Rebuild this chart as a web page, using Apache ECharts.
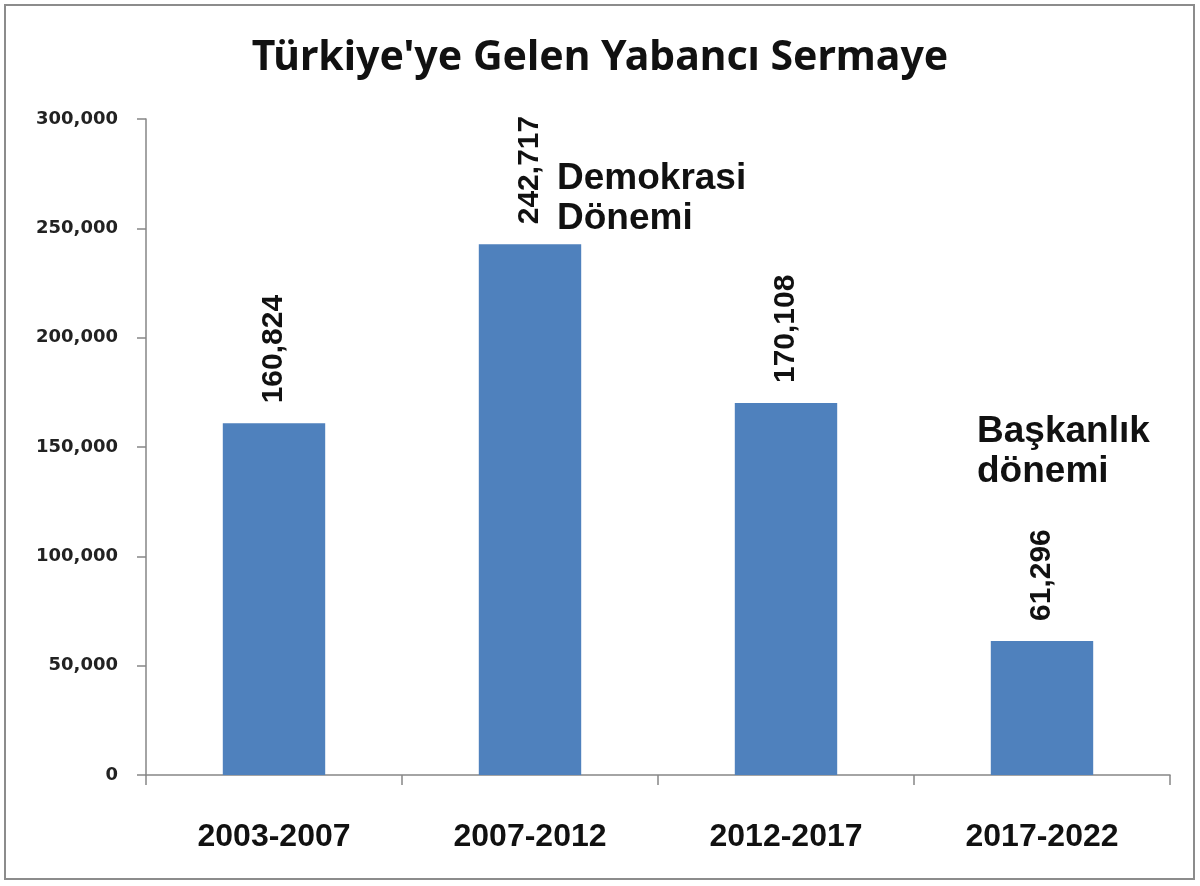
<!DOCTYPE html>
<html>
<head>
<meta charset="utf-8">
<script src="https://cdn.jsdelivr.net/npm/echarts@6/dist/echarts.min.js"></script>
<style>html,body{margin:0;padding:0;background:#fff}#c{width:1200px;height:886px}</style>
</head>
<body>
<div id="c"></div>
<script>
var categories = ['2003-2007', '2007-2012', '2012-2017', '2017-2022'];
var values = [160824, 242717, 170108, 61296];
var yTicks = [0, 50000, 100000, 150000, 200000, 250000, 300000];
var titleText = "Türkiye'ye Gelen Yabancı Sermaye";
var annotations = [
  { text: 'Demokrasi\nDönemi', category: 1, value: 282000, dx: 27 },
  { text: 'Başkanlık\ndönemi', category: 3, value: 166300, dx: -65 }
];

var chart = echarts.init(document.getElementById('c'), null, { renderer: 'canvas' });
function fmt(v) { return String(v).replace(/\B(?=(\d{3})+(?!\d))/g, ','); }

chart.setOption({
  backgroundColor: '#ffffff',
  animation: false,
  title: {
    text: titleText,
    left: 'center',
    top: 33,
    textStyle: { fontFamily: 'Noto Sans', fontWeight: 'bold', fontSize: 41, color: '#111' }
  },
  grid: { left: 146, right: 30, top: 119, bottom: 111, containLabel: false },
  xAxis: {
    type: 'category',
    data: categories,
    axisLine: { lineStyle: { color: '#868686', width: 1.5 } },
    axisTick: { show: true, length: 10, lineStyle: { color: '#868686', width: 1.5 } },
    axisLabel: { margin: 46, fontFamily: 'Liberation Sans', fontWeight: 'bold', fontSize: 32, color: '#111' }
  },
  yAxis: {
    type: 'value',
    min: yTicks[0],
    max: yTicks[yTicks.length - 1],
    interval: yTicks[1] - yTicks[0],
    splitLine: { show: false },
    axisLine: { show: true, lineStyle: { color: '#868686', width: 1.5 } },
    axisTick: { show: true, length: 9, lineStyle: { color: '#868686', width: 1.5 } },
    axisLabel: { margin: 28, fontFamily: 'DejaVu Sans', fontWeight: 'bold', fontSize: 18, color: '#222', formatter: fmt }
  },
  series: [{
    type: 'bar',
    data: values,
    barWidth: '40%',
    itemStyle: { color: '#4F81BD' },
    label: {
      show: true,
      position: 'top',
      distance: 20,
      rotate: 90,
      align: 'left',
      verticalAlign: 'middle',
      fontFamily: 'Liberation Sans',
      fontWeight: 'bold',
      fontSize: 30,
      color: '#111',
      formatter: function (p) { return fmt(p.value); }
    }
  }]
});

var g = [{
  type: 'rect',
  shape: { x: 5, y: 5, width: 1189, height: 874 },
  style: { fill: 'none', stroke: '#8c8c8c', lineWidth: 2 },
  silent: true
}];
annotations.forEach(function (a) {
  var p = chart.convertToPixel({ xAxisIndex: 0, yAxisIndex: 0 }, [categories[a.category], a.value]);
  g.push({
    type: 'text',
    x: p[0] + a.dx,
    y: p[1],
    style: {
      text: a.text,
      fontFamily: 'Liberation Sans',
      fontWeight: 'bold',
      fontSize: 37,
      lineHeight: 40,
      fill: '#111',
      textAlign: 'left',
      textVerticalAlign: 'top'
    }
  });
});
chart.setOption({ graphic: g });
</script>
</body>
</html>
